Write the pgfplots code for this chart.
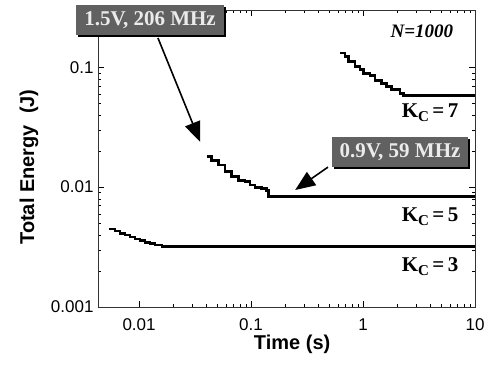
\documentclass[border=0pt]{standalone}
\usepackage{pgfplots}
\pgfplotsset{compat=1.18}
\usepackage{fontspec}
\setmainfont{Liberation Sans}
\newfontfamily\serif{Liberation Serif}
\usetikzlibrary{arrows.meta,shadows}
\newcommand{\KC}[1]{\serif\bfseries K\raisebox{-0.4ex}{\fontsize{15}{15}\selectfont C}\,=\,#1}
\begin{document}
\begin{tikzpicture}
\useasboundingbox (-98pt,-63pt) rectangle (396pt,307pt);
\begin{axis}[
  scale only axis,
  width=377pt, height=297pt,
  xmode=log, ymode=log,
  xmin=0.0043, xmax=10,
  ymin=0.001, ymax=0.30,
  xtick={0.01,0.1,1,10}, xticklabels={0.01,0.1,1,10},
  ytick={0.001,0.01,0.1}, yticklabels={0.001,0.01,0.1},
  tick align=inside,
  major tick length=6pt, minor tick length=3pt,
  every tick/.style={black, thin},
  axis line style={black!80, thin},
  /pgf/number format/assume math mode=true,
  tick label style={font=\fontsize{17}{17}\selectfont},
  xticklabel style={yshift=-8pt},
  yticklabel style={xshift=-1pt},
  xlabel={\bfseries Time (s)},
  ylabel={\bfseries Total Energy~~(J)},
  label style={font=\fontsize{20}{20}\selectfont},
  xlabel style={at={(axis description cs:0.515,-0.125)}, anchor=center},
  ylabel style={at={(axis description cs:-0.183,0.471)}, anchor=center},
  clip=false,
]
% K_C = 3
\addplot[const plot, black, line width=2.8pt] coordinates {
  (0.00543,0.00447) (0.00611,0.00430) (0.00676,0.00411) (0.00750,0.00398)
  (0.00832,0.00383) (0.00921,0.00369) (0.0102,0.00357) (0.0113,0.00346)
  (0.01254,0.00338) (0.0139,0.00329) (0.0160,0.00318) (10,0.00318)
};
% K_C = 5
\addplot[const plot, black, line width=2.8pt] coordinates {
  (0.0402,0.0179) (0.0446,0.0168) (0.0511,0.0153) (0.0586,0.0136)
  (0.0673,0.0122) (0.0771,0.0114) (0.0883,0.01107) (0.0979,0.0104)
  (0.1086,0.00994) (0.1247,0.00976) (0.138,0.00944) (0.143,0.0084) (10,0.0084)
};
% K_C = 7
\addplot[const plot, black, line width=2.8pt] coordinates {
  (0.624,0.1315) (0.690,0.1235) (0.740,0.112) (0.849,0.1019) (0.940,0.0957)
  (1.006,0.0880) (1.155,0.0850) (1.28,0.0780) (1.47,0.0735) (1.63,0.0690)
  (1.80,0.0650) (2.14,0.0600) (2.29,0.0585) (10,0.0585)
};
\node at (axis description cs:0.881,0.655) {\fontsize{21}{21}\selectfont\KC{7}};
\node at (axis description cs:0.881,0.303) {\fontsize{21}{21}\selectfont\KC{5}};
\node at (axis description cs:0.881,0.135) {\fontsize{21}{21}\selectfont\KC{3}};
\node at (axis description cs:0.859,0.929) {\fontsize{19}{19}\selectfont\serif\bfseries\itshape N=1000};
\draw[line width=1.6pt, -{Triangle[length=20pt,width=16pt]}]
  (axis description cs:0.159,0.906) -- (axis description cs:0.271,0.556);
\draw[line width=1.6pt, -{Triangle[length=20pt,width=16pt]}]
  (axis description cs:0.610,0.471) -- (axis description cs:0.523,0.394);
\node[fill=black!62, text=black!8, inner xsep=8pt, inner ysep=6pt, drop shadow={opacity=1, fill=black, shadow xshift=2pt, shadow yshift=-2pt}]
  at (axis description cs:0.138,0.966) {\fontsize{21}{21}\selectfont\serif\bfseries 1.5V, 206 MHz};
\node[fill=black!62, text=black!8, inner xsep=8pt, inner ysep=6pt, drop shadow={opacity=1, fill=black, shadow xshift=2pt, shadow yshift=-2pt}]
  at (axis description cs:0.801,0.522) {\fontsize{21}{21}\selectfont\serif\bfseries 0.9V, 59 MHz};
\end{axis}
\end{tikzpicture}
\end{document}
